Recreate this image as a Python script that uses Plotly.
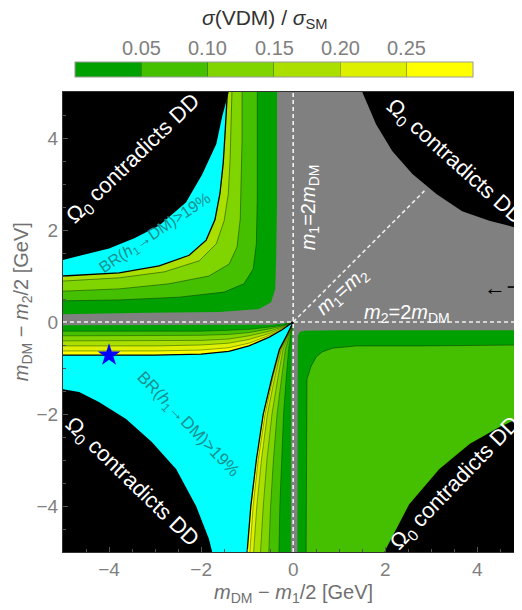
import plotly.graph_objects as go

FONT = "Liberation Sans, Arial, sans-serif"

# ---- colour bins of sigma(VDM)/sigma_SM ----
BIN_EDGES = [0.0, 0.05, 0.10, 0.15, 0.20, 0.25, 0.30]
BIN_COLORS = ["#00a000", "#44c000", "#80d400", "#aadf00", "#dcf000", "#ffff00"]
CB_TICKVALS = [0.05, 0.10, 0.15, 0.20, 0.25]
CB_TICKTEXT = ["0.05", "0.10", "0.15", "0.20", "0.25"]

GRAY = "#808080"
CYAN = "#00ffff"
BLACK = "#000000"
TEAL = "#1a8f8f"

# ---- upper-left quadrant boundaries (x = mDM - m1/2, y = mDM - m2/2) ----
TL_BLACK_X = [-5, -4.0, -3.45, -2.91, -2.33, -1.98, -1.67, -1.54, -1.40]
TL_BLACK_Y = [1.35, 1.60, 1.82, 2.10, 2.60, 3.20, 3.87, 4.48, 5.0]
TL_BR_X = [-5, -3.78, -2.91, -2.26, -1.89, -1.70, -1.59, -1.52, -1.48, -1.43]
TL_BR_Y = [1.00, 1.07, 1.22, 1.45, 1.78, 2.22, 2.80, 3.45, 4.09, 5.0]
TL_L15_X = [-5, -3.78, -2.80, -2.04, -1.67, -1.50, -1.41, -1.37, -1.35, -1.33]
TL_L15_Y = [0.89, 0.96, 1.09, 1.33, 1.70, 2.20, 2.78, 3.54, 4.30, 5.0]
TL_L10_X = [-5, -3.78, -2.70, -1.83, -1.39, -1.22, -1.15, -1.13, -1.11, -1.11]
TL_L10_Y = [0.67, 0.72, 0.83, 1.00, 1.26, 1.63, 2.24, 3.11, 3.98, 5.0]
TL_L05_X = [-5, -3.78, -2.48, -1.50, -1.07, -0.87, -0.80, -0.78, -0.78, -0.78]
TL_L05_Y = [0.46, 0.48, 0.54, 0.65, 0.83, 1.15, 1.70, 2.67, 3.76, 5.0]
TL_L00_X = [-5, -3.13, -1.61, -0.74, -0.48, -0.39, -0.37, -0.35, -0.35, -0.35]
TL_L00_Y = [0.17, 0.20, 0.22, 0.28, 0.43, 0.72, 1.37, 2.67, 3.76, 5.0]

# ---- lower-left quadrant: horizontal fan (below y = 0) ----
BLH_X = [-5, -3, -2, -1.4, -0.96, -0.52, -0.24, -0.08, 0]
BLH_BR = [-0.72, -0.72, -0.70, -0.64, -0.52, -0.33, -0.17, -0.06, 0]
BLH_L25 = [-0.63, -0.63, -0.61, -0.56, -0.46, -0.29, -0.15, -0.05, 0]
BLH_L20 = [-0.52, -0.52, -0.50, -0.46, -0.38, -0.25, -0.13, -0.05, 0]
BLH_L15 = [-0.41, -0.41, -0.40, -0.37, -0.30, -0.20, -0.11, -0.04, 0]
BLH_L10 = [-0.30, -0.30, -0.29, -0.27, -0.23, -0.15, -0.09, -0.03, 0]
BLH_L05 = [-0.20, -0.20, -0.20, -0.18, -0.16, -0.11, -0.07, -0.03, 0]
BLH_L00 = [-0.07, -0.07, -0.07, -0.07, -0.07, -0.06, -0.04, -0.02, 0]

# ---- lower-left quadrant: vertical fan (left of x = 0) ----
BLV_Y = [-5, -4, -3, -2, -1.2, -0.6, -0.25, -0.08, 0]
BLV_BR = [-1.00, -0.92, -0.80, -0.65, -0.46, -0.30, -0.12, -0.04, 0]
BLV_L25 = [-0.94, -0.87, -0.76, -0.61, -0.44, -0.28, -0.11, -0.04, 0]
BLV_L20 = [-0.86, -0.79, -0.69, -0.56, -0.40, -0.26, -0.10, -0.035, 0]
BLV_L15 = [-0.71, -0.65, -0.57, -0.46, -0.33, -0.22, -0.09, -0.03, 0]
BLV_L10 = [-0.53, -0.49, -0.43, -0.35, -0.25, -0.17, -0.07, -0.025, 0]
BLV_L05 = [-0.31, -0.29, -0.25, -0.21, -0.15, -0.10, -0.05, -0.02, 0]
BLV_L00 = [-0.05, -0.05, -0.05, -0.05, -0.04, -0.03, -0.02, -0.01, 0]

BL_BLACK_X = [-5, -4.65, -4.22, -3.63, -3.07, -2.54, -2.11, -1.83, -1.76]
BL_BLACK_Y = [-1.46, -1.52, -1.74, -2.11, -2.61, -3.20, -4.00, -4.72, -5]

# ---- lower-right quadrant ----
BRQ_OUT_X = [0.09, 0.09, 0.10, 0.14, 0.24, 1.0, 5.0]
BRQ_OUT_Y = [-5, -0.45, -0.30, -0.22, -0.19, -0.18, -0.18]
BRQ_IN_X = [0.28, 0.29, 0.30, 0.30, 0.39, 0.50, 0.63, 0.85, 1.37, 2.80, 5.0]
BRQ_IN_Y = [-5, -2.8, -1.61, -1.24, -0.96, -0.76, -0.65, -0.57, -0.52, -0.52, -0.50]
BRQ_BLACK_X = [1.98, 2.52, 3.17, 3.83, 4.48, 5.0]
BRQ_BLACK_Y = [-5, -3.96, -3.20, -2.65, -2.28, -2.05]

# ---- upper-right quadrant ----
TR_BLACK_X = [1.50, 1.80, 2.15, 2.59, 3.11, 3.67, 4.26, 5.0]
TR_BLACK_Y = [5, 4.30, 3.72, 3.22, 2.78, 2.41, 2.20, 2.01]

DIAG_END = 2.85
STAR_X = [-4.0]
STAR_Y = [-0.72]
ARROW_Y = 0.76

E = 5.6
fig = go.Figure()


def poly(xs, ys, color):
    fig.add_trace(go.Scatter(x=xs, y=ys, mode="lines", fill="toself", fillcolor=color,
                             line=dict(width=0, color=color), hoverinfo="skip",
                             showlegend=False))


def curve(xs, ys, color, width):
    fig.add_trace(go.Scatter(x=xs, y=ys, mode="lines", line=dict(color=color, width=width),
                             hoverinfo="skip", showlegend=False))


LINE_C = "rgba(0,45,0,0.6)"

# upper-left bands
tl = [(TL_L00_X, TL_L00_Y, BIN_COLORS[0]), (TL_L05_X, TL_L05_Y, BIN_COLORS[1]),
      (TL_L10_X, TL_L10_Y, BIN_COLORS[2]), (TL_L15_X, TL_L15_Y, BIN_COLORS[3]),
      (TL_BR_X, TL_BR_Y, CYAN)]
for xs, ys, c in tl:
    poly([-E] + xs + [xs[-1], -E], [ys[0]] + ys + [E, E], c)

# lower-left horizontal fan
blh = [BLH_L00, BLH_L05, BLH_L10, BLH_L15, BLH_L20, BLH_L25]
for k, ys in enumerate(blh):
    poly([-E] + BLH_X + BLH_X[::-1] + [-E], [ys[0]] + ys + BLH_BR[::-1] + [BLH_BR[0]], BIN_COLORS[k])
# lower-left vertical fan
blv = [BLV_L00, BLV_L05, BLV_L10, BLV_L15, BLV_L20, BLV_L25]
for k, xs in enumerate(blv):
    poly([xs[0]] + xs + BLV_BR[::-1] + [BLV_BR[0]], [-E] + BLV_Y + BLV_Y[::-1] + [-E], BIN_COLORS[k])
# cyan region BR(h1->DM) > 19 %
poly([-E] + BLH_X + BLV_BR[::-1] + [BLV_BR[0], -E],
     [BLH_BR[0]] + BLH_BR + BLV_Y[::-1] + [-E, -E], CYAN)

# lower-right bands
poly([BRQ_OUT_X[0]] + BRQ_OUT_X + [E, E], [-E] + BRQ_OUT_Y + [BRQ_OUT_Y[-1], -E], BIN_COLORS[0])
poly([BRQ_IN_X[0]] + BRQ_IN_X + [E, E], [-E] + BRQ_IN_Y + [BRQ_IN_Y[-1], -E], BIN_COLORS[1])

# contour lines
for xs, ys in [(TL_L05_X, TL_L05_Y), (TL_L10_X, TL_L10_Y), (TL_L15_X, TL_L15_Y)]:
    curve(xs, ys, LINE_C, 0.8)
for ys in blh[1:]:
    curve(BLH_X, ys, LINE_C, 0.7)
for xs in blv[1:]:
    curve(xs, BLV_Y, LINE_C, 0.7)
curve(BRQ_IN_X, BRQ_IN_Y, LINE_C, 0.8)
curve(TL_BR_X, TL_BR_Y, BLACK, 1.3)
curve(BLH_X, BLH_BR, BLACK, 1.3)
curve(BLV_BR, BLV_Y, BLACK, 1.3)

# Omega_0 contradicts DD regions
poly([-E] + TL_BLACK_X + [TL_BLACK_X[-1], -E], [TL_BLACK_Y[0]] + TL_BLACK_Y + [E, E], BLACK)
poly([TR_BLACK_X[0]] + TR_BLACK_X + [E, E], [E] + TR_BLACK_Y + [TR_BLACK_Y[-1], E], BLACK)
poly([-E] + BL_BLACK_X + [BL_BLACK_X[-1], -E], [BL_BLACK_Y[0]] + BL_BLACK_Y + [-E, -E], BLACK)
poly([BRQ_BLACK_X[0]] + BRQ_BLACK_X + [E, E], [-E] + BRQ_BLACK_Y + [BRQ_BLACK_Y[-1], -E], BLACK)

# benchmark star
fig.add_trace(go.Scatter(x=STAR_X, y=STAR_Y, mode="markers",
                         marker=dict(symbol="star", size=17, color="#0000ff", line=dict(width=0)),
                         hoverinfo="skip", showlegend=False))

# colour bar (dummy trace carrying the colour scale)
cs = []
n = len(BIN_COLORS)
for i, c in enumerate(BIN_COLORS):
    cs.append([i / n, c])
    cs.append([(i + 1) / n, c])
fig.add_trace(go.Scatter(x=[-20, -20], y=[-20, -20], mode="markers", hoverinfo="skip",
                         showlegend=False,
                         marker=dict(color=[BIN_EDGES[0], BIN_EDGES[-1]], cmin=BIN_EDGES[0],
                                     cmax=BIN_EDGES[-1], colorscale=cs, showscale=True,
                                     colorbar=dict(orientation="h", x=0.026, xanchor="left",
                                                   y=1.0652, yanchor="top", len=398,
                                                   lenmode="pixels", thickness=15, xpad=0,
                                                   ypad=0, outlinewidth=1, outlinecolor="#9a9a9a",
                                                   tickvals=CB_TICKVALS, ticks="inside",
                                                   ticklen=15, tickcolor="rgba(40,40,40,0.35)",
                                                   showticklabels=False))))

dash = dict(color="#f0f0f0", width=1.6, dash="4px,3px")
shapes = [
    dict(type="line", xref="x", yref="y", x0=0, x1=0, y0=-5, y1=5, line=dash),
    dict(type="line", xref="x", yref="y", x0=-5, x1=5, y0=0, y1=0, line=dash),
    dict(type="line", xref="x", yref="y", x0=0, x1=DIAG_END, y0=0, y1=DIAG_END, line=dash),
    # dash of the arrow pointing at the benchmark line (cut at the right edge)
    dict(type="line", xref="x", yref="y", x0=4.66, x1=4.86, y0=ARROW_Y, y1=ARROW_Y,
         line=dict(color="black", width=1.6)),
]

ann = []
omega = "Ω<sub>0</sub> contradicts DD"
for (ax, ay, ang) in [(-3.46, 3.54, -44), (3.50, 3.48, 42), (-3.52, -3.48, 44), (3.52, -3.52, -46)]:
    ann.append(dict(x=ax, y=ay, text=omega, textangle=ang, showarrow=False,
                    font=dict(color="white", size=22, family=FONT)))
br_txt = "BR(<i>h</i><sub>1</sub>→DM)>19%"
ann.append(dict(x=-3.0, y=1.93, text=br_txt, textangle=-34, showarrow=False,
                font=dict(color=TEAL, size=16, family=FONT)))
ann.append(dict(x=-2.30, y=-2.24, text=br_txt, textangle=46, showarrow=False,
                font=dict(color=TEAL, size=17, family=FONT)))
ann.append(dict(x=0.35, y=2.5, text="<i>m</i><sub>1</sub>=2<i>m</i><sub>DM</sub>", textangle=-90,
                showarrow=False, font=dict(color="white", size=20, family=FONT)))
ann.append(dict(x=1.07, y=0.66, text="<i>m</i><sub>1</sub>=<i>m</i><sub>2</sub>", textangle=-42,
                showarrow=False, font=dict(color="white", size=20, family=FONT)))
ann.append(dict(x=2.48, y=0.19, text="<i>m</i><sub>2</sub>=2<i>m</i><sub>DM</sub>",
                showarrow=False, font=dict(color="white", size=20, family=FONT)))
ann.append(dict(x=4.38, y=ARROW_Y, text="←", showarrow=False, xanchor="center", yanchor="middle",
                font=dict(color="black", size=22, family=FONT)))
# axis titles
ann.append(dict(xref="x", yref="paper", x=0, y=0, yshift=-41, xanchor="center", yanchor="middle",
                text="<i>m</i><sub>DM</sub> − <i>m</i><sub>1</sub>/2 [GeV]", showarrow=False,
                font=dict(color="#707070", size=20, family=FONT)))
ann.append(dict(xref="paper", yref="y", x=0, xshift=-41, y=0.43, xanchor="center",
                yanchor="middle", text="<i>m</i><sub>DM</sub> − <i>m</i><sub>2</sub>/2 [GeV]",
                textangle=-90, showarrow=False, font=dict(color="#707070", size=20, family=FONT)))
# colour bar title and labels
ann.append(dict(xref="paper", yref="paper", x=0.44, y=1.1587, xanchor="center", yanchor="middle",
                text="<i>σ</i>(VDM) / <i>σ</i><sub>SM</sub>", showarrow=False,
                font=dict(color="#333333", size=21, family=FONT)))
for v, t in zip(CB_TICKVALS, CB_TICKTEXT):
    px = 75 + 398 * (v - BIN_EDGES[0]) / (BIN_EDGES[-1] - BIN_EDGES[0])
    ann.append(dict(xref="paper", yref="paper", x=(px - 63) / 459, y=1.0957, xanchor="center",
                    yanchor="middle", text=t, showarrow=False,
                    font=dict(color="#808080", size=20, family=FONT)))

axis_common = dict(showgrid=False, zeroline=False, showline=True, mirror=True, linecolor="#333333",
                   linewidth=1, ticks="inside", ticklen=5, tickcolor="#555555", dtick=2, tick0=0,
                   tickfont=dict(color="#808080", size=19, family=FONT),
                   minor=dict(dtick=0.5, tick0=0, ticks="inside", ticklen=3, tickcolor="#555555",
                              showgrid=False))
# the page body adds an 8 px offset, so the figure is 8 px smaller than the window
fig.update_layout(
    width=514, height=602, margin=dict(l=55, r=0, t=84, b=58, autoexpand=False),
    paper_bgcolor="white", plot_bgcolor=GRAY, font=dict(family=FONT),
    xaxis=dict(range=[-5, 4.97], **axis_common),
    yaxis=dict(range=[-5, 5], **axis_common),
    shapes=shapes, annotations=ann, showlegend=False,
)
fig.write_html("out.html")
